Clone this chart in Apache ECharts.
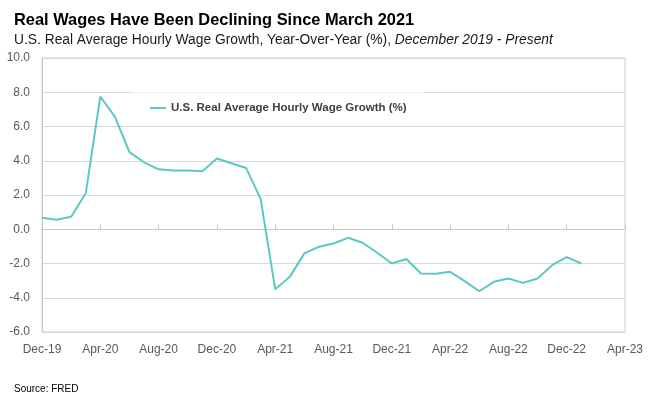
<!DOCTYPE html>
<html>
<head>
<meta charset="utf-8">
<script src="https://cdn.jsdelivr.net/npm/echarts@6/dist/echarts.min.js"></script>
<style>
  html, body { margin: 0; padding: 0; background: #ffffff; }
  #chart { width: 653px; height: 396px; }
</style>
</head>
<body>
<div id="chart"></div>
<script>
// ---- Data ----
var categories = [
  'Dec-19','Jan-20','Feb-20','Mar-20','Apr-20','May-20','Jun-20','Jul-20','Aug-20','Sep-20','Oct-20','Nov-20',
  'Dec-20','Jan-21','Feb-21','Mar-21','Apr-21','May-21','Jun-21','Jul-21','Aug-21','Sep-21','Oct-21','Nov-21',
  'Dec-21','Jan-22','Feb-22','Mar-22','Apr-22','May-22','Jun-22','Jul-22','Aug-22','Sep-22','Oct-22','Nov-22',
  'Dec-22','Jan-23','Feb-23','Mar-23','Apr-23'
];
var wageGrowth = [
  0.67, 0.56, 0.73, 2.10, 7.75, 6.58, 4.50, 3.91, 3.50, 3.43, 3.43, 3.39,
  4.13, 3.85, 3.58, 1.77, -3.50, -2.78, -1.41, -1.02, -0.83, -0.50, -0.79, -1.37,
  -2.00, -1.74, -2.58, -2.60, -2.48, -3.03, -3.62, -3.07, -2.88, -3.13, -2.88, -2.10,
  -1.63, -2.00
];
var seriesName = 'U.S. Real Average Hourly Wage Growth (%)';
var yTicks = { min: -6, max: 10, interval: 2 };

var narrow = "'Liberation Sans Narrow', 'Arial Narrow', 'Liberation Sans', Arial, sans-serif";
var sans = "'Liberation Sans', Arial, Helvetica, sans-serif";

var seriesData = wageGrowth.map(function (v, i) {
  if (i === wageGrowth.length - 1) {
    return {
      value: v,
      label: {
        show: true,
        position: 'right',
        distance: 8,
        formatter: function (p) { return p.value.toFixed(1); },
        color: '#2f7f7b',
        fontFamily: narrow,
        fontWeight: 'bold',
        fontSize: 13
      }
    };
  }
  return v;
});

var chart = echarts.init(document.getElementById('chart'), null, { renderer: 'canvas' });
chart.setOption({
  animation: false,
  backgroundColor: '#ffffff',
  title: [
    {
      text: 'Real Wages Have Been Declining Since March 2021',
      left: 9, top: 7,
      textStyle: { fontFamily: sans, fontWeight: 'bold', fontSize: 16.4, color: '#000000' }
    },
    {
      text: '{n|U.S. Real Average Hourly Wage Growth, Year-Over-Year (%), }{i|December 2019 - Present}',
      left: 9, top: 28,
      textStyle: {
        fontWeight: 'normal',
        rich: {
          n: { fontFamily: sans, fontSize: 13.8, fontWeight: 'normal', color: '#1a1a1a' },
          i: { fontFamily: sans, fontSize: 13.8, fontWeight: 'normal', fontStyle: 'italic', color: '#1a1a1a' }
        }
      }
    },
    {
      text: 'Source: FRED',
      left: 9, top: 379,
      textStyle: { fontFamily: sans, fontSize: 10, fontWeight: 'normal', color: '#000000' }
    }
  ],
  legend: {
    data: [{ name: seriesName, icon: 'rect' }],
    left: 130, top: 88,
    padding: [14, 18, 10, 20],
    backgroundColor: 'rgba(255,255,255,0.6)',
    itemWidth: 16, itemHeight: 2,
    textStyle: { fontFamily: narrow, fontWeight: 'bold', fontSize: 11.5, color: '#404040' }
  },
  grid: {
    left: 42, right: 28, top: 58, bottom: 64,
    show: true, borderColor: '#d0d0d0', borderWidth: 1, backgroundColor: 'transparent'
  },
  xAxis: [
    {
      type: 'category',
      data: categories,
      boundaryGap: false,
      position: 'bottom',
      axisLine: { show: false, onZero: false },
      axisTick: { show: false },
      splitLine: { show: false },
      axisLabel: {
        interval: 3,
        margin: 12,
        fontFamily: narrow, fontSize: 12, color: '#595959'
      }
    },
    {
      type: 'category',
      data: categories,
      boundaryGap: false,
      position: 'bottom',
      axisLine: { show: true, onZero: true, lineStyle: { color: '#c8c8c8', width: 1 } },
      axisTick: { show: true, inside: true, interval: 3, length: 5, lineStyle: { color: '#c8c8c8' } },
      axisLabel: { show: false },
      splitLine: { show: false }
    }
  ],
  yAxis: {
    type: 'value',
    min: yTicks.min, max: yTicks.max, interval: yTicks.interval,
    axisLine: { show: true, lineStyle: { color: '#c8c8c8' } },
    axisTick: { show: false },
    splitLine: { show: true, lineStyle: { color: '#d9d9d9', width: 1 } },
    axisLabel: {
      margin: 12,
      formatter: function (v) { return v.toFixed(1); },
      fontFamily: narrow, fontSize: 12, color: '#595959'
    }
  },
  series: [
    {
      name: seriesName,
      type: 'line',
      xAxisIndex: 0,
      data: seriesData,
      showSymbol: false,
      symbol: 'none',
      lineStyle: { color: '#5cc8c3', width: 2 },
      itemStyle: { color: '#5cc8c3' },
      z: 5
    }
  ]
});
</script>
</body>
</html>
